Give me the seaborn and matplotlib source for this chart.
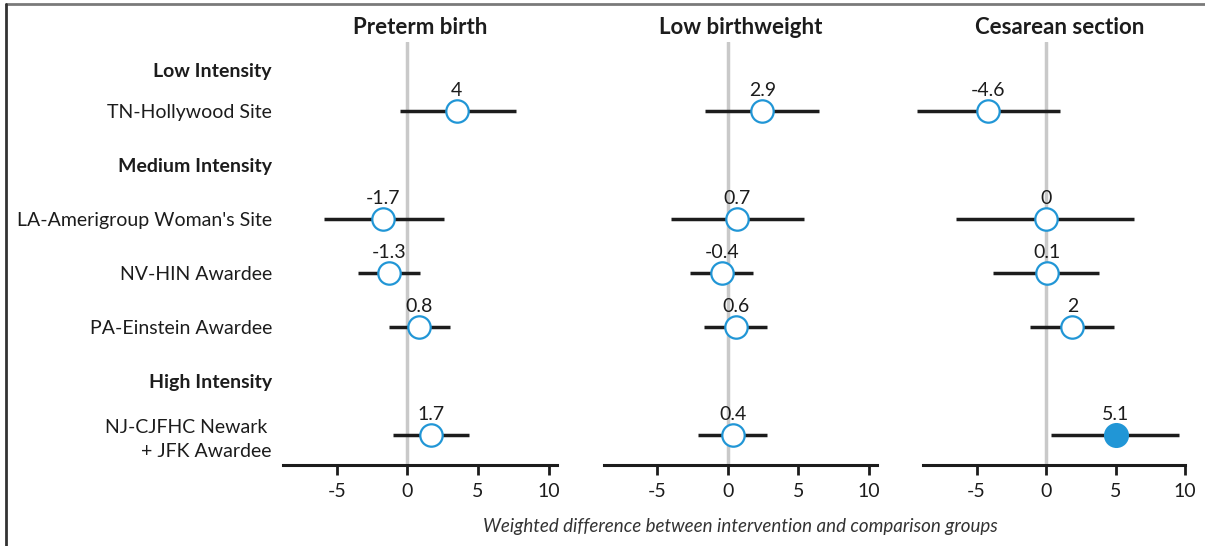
import numpy as np
import pandas as pd
import matplotlib
matplotlib.use("Agg")
import matplotlib.pyplot as plt
import seaborn as sns

# --- data -----------------------------------------------------------------
sites = ["TN-Hollywood Site", "LA-Amerigroup Woman's Site", "NV-HIN Awardee",
         "PA-Einstein Awardee", "NJ-CJFHC Newark \n+ JFK Awardee"]
site_group = ["Low Intensity", "Medium Intensity", "Medium Intensity",
              "Medium Intensity", "High Intensity"]

outcomes = ["Preterm birth", "Low birthweight", "Cesarean section"]

# point estimates (where the marks sit), printed labels, and interval ends
preterm_est = [3.5, -1.7, -1.3, 0.8, 1.7]
preterm_txt = ["4", "-1.7", "-1.3", "0.8", "1.7"]
preterm_lo = [-0.5, -5.9, -3.5, -1.3, -1.0]
preterm_hi = [7.7, 2.6, 0.9, 3.0, 4.4]

lbw_est = [2.45, 0.65, -0.4, 0.55, 0.35]
lbw_txt = ["2.9", "0.7", "-0.4", "0.6", "0.4"]
lbw_lo = [-1.6, -4.05, -2.7, -1.7, -2.1]
lbw_hi = [6.5, 5.4, 1.8, 2.8, 2.8]

ces_est = [-4.2, 0.0, 0.05, 1.9, 5.0]
ces_txt = ["-4.6", "0", "0.1", "2", "5.1"]
ces_lo = [-9.3, -6.5, -3.8, -1.15, 0.35]
ces_hi = [1.0, 6.3, 3.8, 4.9, 9.6]

significant = {
    "Preterm birth": [False] * 5,
    "Low birthweight": [False] * 5,
    "Cesarean section": [False, False, False, False, True],
}

x_ticks = [-5, 0, 5, 10]

# --- build row layout (group headers + sites) ------------------------------
row_labels = []
row_is_header = []
site_slot = []
for s, g in zip(sites, site_group):
    if g not in row_labels:
        row_labels.append(g)
        row_is_header.append(True)
    site_slot.append(len(row_labels))
    row_labels.append(s)
    row_is_header.append(False)

# first header sits a little closer to its site row
tick_pos = [i + (0.24 if i == 0 else 0) for i in range(len(row_labels))]

est = {"Preterm birth": preterm_est, "Low birthweight": lbw_est, "Cesarean section": ces_est}
txt = {"Preterm birth": preterm_txt, "Low birthweight": lbw_txt, "Cesarean section": ces_txt}
lo = {"Preterm birth": preterm_lo, "Low birthweight": lbw_lo, "Cesarean section": ces_lo}
hi = {"Preterm birth": preterm_hi, "Low birthweight": lbw_hi, "Cesarean section": ces_hi}

frames = []
for o in outcomes:
    frames.append(pd.DataFrame({"outcome": o, "site": sites, "slot": site_slot,
                                "est": est[o], "label": txt[o],
                                "lo": lo[o], "hi": hi[o], "sig": significant[o]}))
df = pd.concat(frames, ignore_index=True)

# --- style ----------------------------------------------------------------
sns.set_style("white")
plt.rcParams["font.family"] = ["Lato", "DejaVu Sans"]

BLUE = "#2196d6"
INK = "#1c1c1c"

fig = plt.figure(figsize=(12.05, 5.46), dpi=100)

W, H = 1205.0, 546.0
bottom = 1 - 465 / H
height = (465 - 42) / H
panels = [  # left px, right px, xlim
    (283, 557, (-8.8, 10.6)),
    (604, 877, (-8.8, 10.6)),
    (923, 1185, (-8.85, 9.9)),
]

axes = []
for i, o in enumerate(outcomes):
    l, r, xl = panels[i]
    ax = fig.add_axes([l / W, bottom, (r - l) / W, height])
    axes.append(ax)
    d = df[df.outcome == o]

    ax.axvline(0, color="#c9c9c9", lw=2.5, zorder=0)
    ax.hlines(d.slot, d.lo, d.hi, color=INK, lw=2.5, zorder=1, clip_on=False)

    open_pts = d[~d.sig]
    fill_pts = d[d.sig]
    sns.scatterplot(data=open_pts, x="est", y="slot", ax=ax, s=260, marker="o",
                    facecolor="white", edgecolor=BLUE, linewidth=1.6, zorder=3,
                    legend=False, clip_on=False)
    if len(fill_pts):
        sns.scatterplot(data=fill_pts, x="est", y="slot", ax=ax, s=270, marker="o",
                        color=BLUE, edgecolor=BLUE, linewidth=1.6, zorder=3,
                        legend=False, clip_on=False)

    for _, row in d.iterrows():
        ax.annotate(row["label"], (row["est"], row["slot"]), xytext=(0, 11),
                    textcoords="offset points", ha="center", va="baseline",
                    fontsize=14, color=INK)

    ax.set_xlim(*xl)
    ax.set_ylim(len(row_labels) - 1 + 0.56, -0.28)
    ax.set_xticks(x_ticks)
    ax.set_xticklabels([str(t) for t in x_ticks])
    ax.set_xlabel("")
    ax.set_ylabel("")
    ax.set_title(o, fontsize=16, fontweight="bold", color=INK, pad=6,
                 x=0.52 if i == 2 else 0.5)

    for sp in ["top", "right", "left"]:
        ax.spines[sp].set_visible(False)
    ax.spines["bottom"].set_linewidth(2.2)
    ax.spines["bottom"].set_color(INK)
    ax.tick_params(axis="x", direction="out", length=7, width=2, color=INK,
                   labelsize=14, labelcolor=INK, pad=6, bottom=True)

    if i == 0:
        ax.set_yticks(tick_pos)
        ax.set_yticklabels(row_labels, fontsize=14, color=INK, ma="right")
        for t, hd in zip(ax.get_yticklabels(), row_is_header):
            t.set_linespacing(1.45)
            if hd:
                t.set_fontweight("bold")
        ax.tick_params(axis="y", length=0, pad=8)
    else:
        ax.set_yticks([])

axes[1].set_xlabel("Weighted difference between intervention and comparison groups",
                   fontsize=13.5, style="italic", color="#333333", labelpad=13)

# frame lines at the top and left edge of the image
fig.add_artist(plt.Line2D([6 / W, 1], [1 - 4 / H, 1 - 4 / H], color="#7a7a7a", lw=2,
                          transform=fig.transFigure))
fig.add_artist(plt.Line2D([6 / W, 6 / W], [0, 1 - 4 / H], color="#333333", lw=2,
                          transform=fig.transFigure))

fig.savefig("out.png", dpi=100)
